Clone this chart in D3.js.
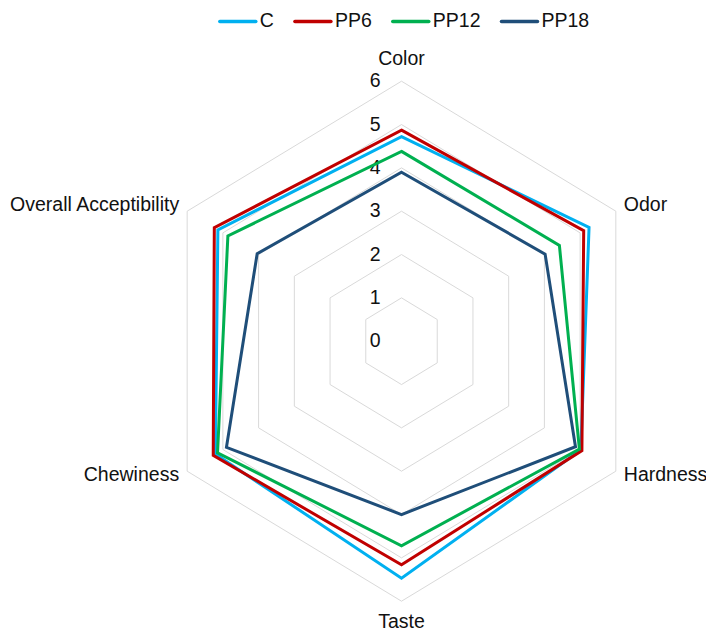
<!DOCTYPE html>
<html>
<head>
<meta charset="utf-8">
<script src="https://cdn.jsdelivr.net/npm/d3@7"></script>
<style>
  html, body { margin: 0; padding: 0; background: #fff; }
  svg { display: block; font-family: "Liberation Sans", Arial, sans-serif; }
</style>
</head>
<body>
<svg id="chart" width="706" height="632"></svg>
<script>
// Sensory attributes (radar axes, clockwise from top)
const categories = ["Color", "Odor", "Hardness", "Taste", "Chewiness", "Overall Acceptibility"];
// Mean scores per formulation
const seriesNames = ["C", "PP6", "PP12", "PP18"];
const valuesC    = [4.72, 5.25, 5.02, 5.47, 5.21, 5.14];
const valuesPP6  = [4.87, 5.10, 5.05, 5.16, 5.27, 5.24];
const valuesPP12 = [4.38, 4.42, 4.98, 4.72, 5.15, 4.86];
const valuesPP18 = [3.90, 4.02, 4.87, 4.00, 4.90, 4.04];
const seriesColors = ["#00b0f0", "#c00000", "#00b050", "#1f4e79"];
const tickValues = [0, 1, 2, 3, 4, 5, 6];

const series = seriesNames.map((name, i) => ({
  name,
  color: seriesColors[i],
  values: [valuesC, valuesPP6, valuesPP12, valuesPP18][i]
}));

const svg = d3.select("#chart");
const cx = 401.5, cy = 341.2;
const RX = 247.5, RY = 260;   // outer radius (horizontal / vertical)
const FS = 19.5;

const r = d3.scaleLinear().domain([0, 6]).range([0, 1]);
const angle = d3.scaleLinear().domain([0, categories.length]).range([0, 2 * Math.PI]);

function pt(i, v) {
  const a = angle(i);
  return [cx + r(v) * RX * Math.sin(a), cy - r(v) * RY * Math.cos(a)];
}

// Grid hexagons
const gridLine = d3.line().curve(d3.curveLinearClosed);
svg.append("g").selectAll("path")
  .data(tickValues.filter(t => t > 0))
  .join("path")
  .attr("d", t => gridLine(categories.map((c, i) => pt(i, t))))
  .attr("fill", "none")
  .attr("stroke", "#d9d9d9")
  .attr("stroke-width", 1);

// Tick labels along the top axis
svg.append("g").selectAll("text")
  .data(tickValues)
  .join("text")
  .attr("x", cx - 21)
  .attr("y", t => pt(0, t)[1] + 1)
  .attr("text-anchor", "end")
  .attr("dominant-baseline", "middle")
  .attr("font-size", FS)
  .attr("fill", "#111")
  .text(t => t);

// Category labels
const labelPos = [
  { dx: 0, dy: -16, anchor: "middle", base: "auto" },
  { dx: 8, dy: -5, anchor: "start", base: "middle" },
  { dx: 8, dy: 5, anchor: "start", base: "middle" },
  { dx: 0, dy: 27, anchor: "middle", base: "auto" },
  { dx: -8, dy: 5, anchor: "end", base: "middle" },
  { dx: -8, dy: -5, anchor: "end", base: "middle" }
];
svg.append("g").selectAll("text")
  .data(categories)
  .join("text")
  .attr("x", (c, i) => pt(i, 6)[0] + labelPos[i].dx)
  .attr("y", (c, i) => pt(i, 6)[1] + labelPos[i].dy)
  .attr("text-anchor", (c, i) => labelPos[i].anchor)
  .attr("dominant-baseline", (c, i) => labelPos[i].base)
  .attr("font-size", FS)
  .attr("fill", "#111")
  .text(c => c);

// Series polygons
svg.append("g").selectAll("path")
  .data(series)
  .join("path")
  .attr("d", s => gridLine(s.values.map((v, i) => pt(i, v))))
  .attr("fill", "none")
  .attr("stroke", s => s.color)
  .attr("stroke-width", 3)
  .attr("stroke-linejoin", "miter");

// Legend
const legend = svg.append("g");
const items = legend.selectAll("g").data(series).join("g");
items.append("line")
  .attr("x1", 2).attr("x2", 38).attr("y1", 0).attr("y2", 0)
  .attr("stroke", s => s.color)
  .attr("stroke-width", 3.5)
  .attr("stroke-linecap", "round");
items.append("text")
  .attr("x", 42)
  .attr("y", 0)
  .attr("dominant-baseline", "middle")
  .attr("font-size", FS)
  .attr("fill", "#111")
  .text(s => s.name);
let xOff = 0;
const offsets = [];
items.each(function () {
  offsets.push(xOff);
  const w = d3.select(this).select("text").node().getComputedTextLength();
  xOff += 42 + w + 19;
});
const total = xOff - 19;
items.attr("transform", (s, i) => `translate(${offsets[i]},0)`);
legend.attr("transform", `translate(${cx + 2 - total / 2},21.5)`);
</script>
</body>
</html>
